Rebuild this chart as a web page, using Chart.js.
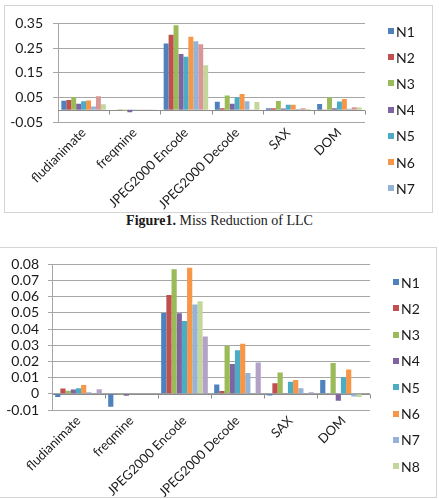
<!DOCTYPE html>
<html>
<head>
<meta charset="utf-8">
<script src="https://cdn.jsdelivr.net/npm/chart.js@4/dist/chart.umd.min.js"></script>
<style>
  body { margin: 0; background: #fff; width: 439px; height: 499px; position: relative; overflow: hidden; }
  canvas { position: absolute; }
  .frame { position: absolute; box-sizing: border-box; border: 1px solid #d4d4d4; }
  #caption { position: absolute; left: 0; width: 439px; top: 213px; text-align: center;
    font-family: "Liberation Serif", "DejaVu Serif", serif; font-size: 14px; color: #1a1a1a; }
</style>
</head>
<body>
<div class="frame" style="left:4px;top:5px;width:429px;height:208px"></div>
<canvas id="llcChart" width="428" height="207" style="left:4px;top:5px"></canvas>
<div id="caption"><b>Figure1.</b> Miss Reduction of LLC</div>
<div class="frame" style="left:-1px;top:247px;width:438px;height:251px"></div>
<canvas id="secondChart" width="437" height="250" style="left:0px;top:247px"></canvas>
<script>
const categories = ["fludianimate", "freqmine", "JPEG2000 Encode", "JPEG2000 Decode", "SAX", "DOM"];
const seriesNames = ["N1", "N2", "N3", "N4", "N5", "N6", "N7", "N8", "N9"];

// Figure 1 - miss reduction of LLC
const llcN1 = [0.036, 0.000, 0.268, 0.032, 0.006, 0.023];
const llcN2 = [0.039, -0.001, 0.304, 0.006, 0.006, 0.001];
const llcN3 = [0.050, -0.004, 0.343, 0.058, 0.035, 0.050];
const llcN4 = [0.024, -0.010, 0.226, 0.024, 0.005, 0.006];
const llcN5 = [0.034, -0.002, 0.215, 0.050, 0.020, 0.033];
const llcN6 = [0.037, -0.001, 0.296, 0.064, 0.020, 0.043];
const llcN7 = [0.013, -0.001, 0.278, 0.034, 0.003, 0.004];
const llcN8 = [0.054, -0.001, 0.265, 0.001, 0.006, 0.010];
const llcN9 = [0.022, -0.001, 0.180, 0.031, 0.003, 0.009];

// second figure
const secN1 = [-0.0020, -0.0080, 0.0500, 0.0058, -0.0010, 0.0085];
const secN2 = [0.0033, 0.0000, 0.0611, 0.0017, 0.0066, 0.0003];
const secN3 = [0.0019, -0.0005, 0.0770, 0.0296, 0.0132, 0.0190];
const secN4 = [0.0027, -0.0012, 0.0498, 0.0185, 0.0000, -0.0043];
const secN5 = [0.0035, -0.0003, 0.0450, 0.0270, 0.0074, 0.0103];
const secN6 = [0.0054, -0.0002, 0.0780, 0.0309, 0.0085, 0.0150];
const secN7 = [0.0010, -0.0002, 0.0552, 0.0128, 0.0035, -0.0016];
const secN8 = [0.0004, -0.0002, 0.0572, 0.0000, 0.0000, -0.0020];
const secN9 = [0.0028, -0.0002, 0.0354, 0.0194, 0.0010, 0.0000];

const llcTicks = ["-0.05", "0.05", "0.15", "0.25", "0.35"];
const secTicks = ["-0.01", "0", "0.01", "0.02", "0.03", "0.04", "0.05", "0.06", "0.07", "0.08"];

const llcColors = ["#4f81bd", "#c0504d", "#9bbb59", "#8064a2", "#4bacc6", "#f79646", "#95b3d7", "#d99694", "#c3d69b"];
const secColors = ["#4f81bd", "#c0504d", "#9bbb59", "#8064a2", "#4bacc6", "#f79646", "#95b3d7", "#c3d69b", "#b3a2c7"];

const gridColor = "#a6a6a6";
const tickFont = { family: "Lato", size: 13 };
const valueFont = { family: "Lato", size: 14 };

// zero axis line with category tick marks
const zeroAxis = {
  id: "zeroAxis",
  beforeDatasetsDraw(chart) {
    const { ctx, chartArea: a, scales } = chart;
    const y0 = Math.round(scales.y.getPixelForValue(0)) + 0.5;
    const n = categories.length;
    ctx.save();
    ctx.strokeStyle = "#8c8c8c";
    ctx.lineWidth = 1;
    ctx.beginPath();
    ctx.moveTo(a.left, y0);
    ctx.lineTo(a.right, y0);
    for (let i = 1; i <= n; i++) {
      const x = Math.round(a.left + i * (a.right - a.left) / n) + 0.5;
      ctx.moveTo(x, y0);
      ctx.lineTo(x, y0 + 4);
    }
    ctx.stroke();
    ctx.restore();
  }
};

// legend at the right, drawn from the datasets
const sideLegend = {
  id: "sideLegend",
  afterDraw(chart, args, opts) {
    const { ctx } = chart;
    ctx.save();
    ctx.font = "14px Lato";
    ctx.textBaseline = "middle";
    chart.data.datasets.slice(0, opts.count).forEach((ds, i) => {
      const y = opts.y + i * opts.step;
      ctx.fillStyle = ds.backgroundColor;
      ctx.fillRect(opts.x, Math.round(y - 3), 6, 6);
      ctx.fillStyle = "#1a1a1a";
      ctx.fillText(ds.label, opts.x + 8, y + 1);
    });
    ctx.restore();
  }
};

function makeDatasets(series, colors) {
  return series.map((data, i) => ({
    label: seriesNames[i],
    data,
    backgroundColor: colors[i],
    borderWidth: 0
  }));
}

function makeChart(id, series, colors, cfg) {
  return new Chart(document.getElementById(id), {
    type: "bar",
    data: { labels: categories, datasets: makeDatasets(series, colors) },
    options: {
      responsive: false,
      animation: false,
      layout: { padding: cfg.padding },
      datasets: { bar: { categoryPercentage: cfg.catPct, barPercentage: 1 } },
      plugins: {
        legend: { display: false },
        tooltip: { enabled: false },
        sideLegend: cfg.legend
      },
      scales: {
        x: {
          grid: { display: false, drawTicks: false },
          border: { display: false },
          ticks: { minRotation: 45, maxRotation: 45, padding: 3, color: "#1a1a1a", font: tickFont, autoSkip: false },
          afterFit: s => { s.height = cfg.xHeight; }
        },
        y: {
          min: cfg.min,
          max: cfg.max,
          ticks: {
            stepSize: cfg.step,
            autoSkip: false,
            padding: cfg.tickPad,
            color: "#1a1a1a",
            font: valueFont,
            callback: (v, i) => cfg.tickLabels[i]
          },
          grid: { color: gridColor, tickLength: cfg.tickLen, lineWidth: 1 },
          border: { color: gridColor },
          afterFit: s => { s.width = cfg.yWidth; }
        }
      }
    },
    plugins: [zeroAxis, sideLegend]
  });
}

makeChart("llcChart",
  [llcN1, llcN2, llcN3, llcN4, llcN5, llcN6, llcN7, llcN8, llcN9], llcColors, {
    padding: { left: 0, top: 16, right: 67, bottom: 0 },
    catPct: 0.87, xHeight: 90, yWidth: 54, tickPad: 10, tickLen: 5,
    min: -0.05, max: 0.35, step: 0.1, tickLabels: llcTicks,
    legend: { count: 7, x: 384, y: 26, step: 26.2 }
  });

makeChart("secondChart",
  [secN1, secN2, secN3, secN4, secN5, secN6, secN7, secN8, secN9], secColors, {
    padding: { left: 0, top: 17, right: 67, bottom: 0 },
    catPct: 0.88, xHeight: 87, yWidth: 52, tickPad: 9, tickLen: 4,
    min: -0.01, max: 0.08, step: 0.01, tickLabels: secTicks,
    legend: { count: 8, x: 393, y: 35, step: 26.3 }
  });
</script>
</body>
</html>
